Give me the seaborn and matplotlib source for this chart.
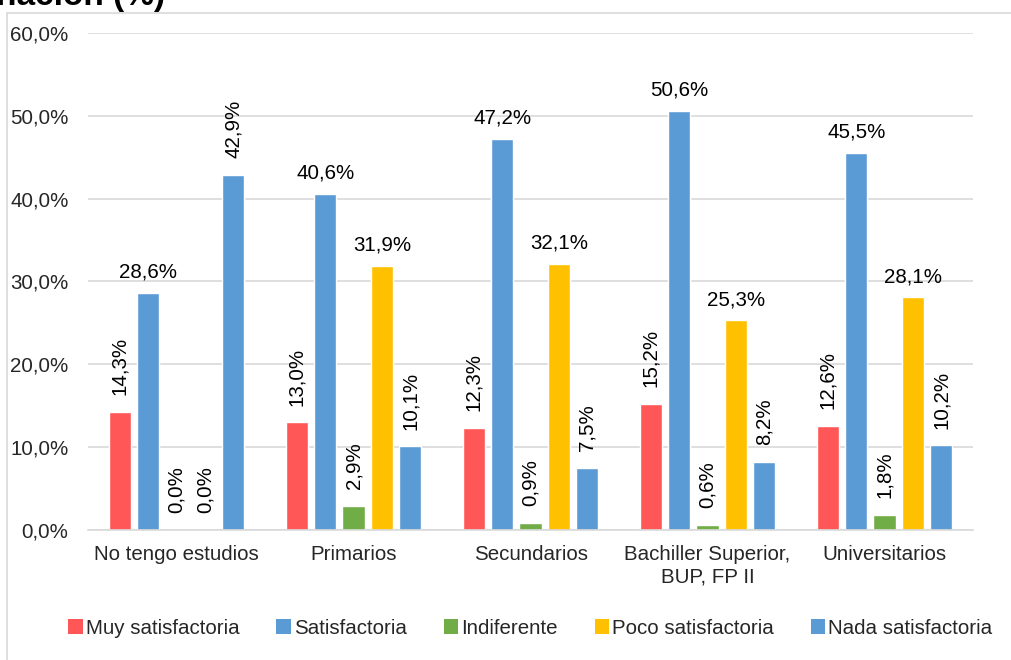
import matplotlib
matplotlib.use("Agg")
import matplotlib.pyplot as plt
from matplotlib.lines import Line2D
from matplotlib.patches import Patch
import seaborn as sns
import pandas as pd

categories = ["No tengo estudios", "Primarios", "Secundarios",
              "Bachiller Superior,\nBUP, FP II", "Universitarios"]
series = ["Muy satisfactoria", "Satisfactoria", "Indiferente",
          "Poco satisfactoria", "Nada satisfactoria"]
muy_satisfactoria = [14.3, 13.0, 12.3, 15.2, 12.6]
satisfactoria = [28.6, 40.6, 47.2, 50.6, 45.5]
indiferente = [0.0, 2.9, 0.9, 0.6, 1.8]
poco_satisfactoria = [0.0, 31.9, 32.1, 25.3, 28.1]
nada_satisfactoria = [42.9, 10.1, 7.5, 8.2, 10.2]
colors = ["#FF5757", "#5B9BD5", "#70AD47", "#FFC000", "#5B9BD5"]
yticks = [0, 10, 20, 30, 40, 50, 60]
title_fragment = "nación (%)"

values = [muy_satisfactoria, satisfactoria, indiferente,
          poco_satisfactoria, nada_satisfactoria]
rows = []
for s, vals in zip(series, values):
    for c, v in zip(categories, vals):
        rows.append({"Nivel": c, "Valoración": s, "Porcentaje": v})
df = pd.DataFrame(rows)

sns.set_theme(style="white")
plt.rcParams["font.family"] = ["Liberation Sans", "DejaVu Sans"]
FS = 14.8

fig = plt.figure(figsize=(10.12, 6.6), dpi=100)
ax = fig.add_axes([0.087, 0.197, 0.8745, 0.753])

sns.barplot(data=df, x="Nivel", y="Porcentaje", hue="Valoración",
            order=categories, hue_order=series, palette=colors,
            width=0.8, gap=0.22, saturation=1, errorbar=None,
            ax=ax, legend=False)

ax.set_ylim(0, 60)
ax.set_xlim(-0.5, len(categories) - 0.5)
ax.set_yticks(yticks)
ax.set_yticklabels([f"{t:.1f}%".replace(".", ",") for t in yticks], fontsize=FS)
ax.tick_params(axis="x", labelsize=FS, length=0, pad=11)
ax.tick_params(axis="y", length=0, pad=14)
ax.set_xlabel("")
ax.set_ylabel("")
ax.yaxis.grid(True, color="#D9D9D9", linewidth=1.2)
ax.set_axisbelow(True)
for side in ["left", "right", "top"]:
    ax.spines[side].set_visible(False)
ax.spines["bottom"].set_color("#D9D9D9")
ax.spines["bottom"].set_linewidth(1.2)

# value labels: horizontal above the taller satisfied / poorly satisfied bars,
# vertical everywhere else
for s_idx, container in enumerate(ax.containers):
    for bar in container:
        v = bar.get_height()
        x = bar.get_x() + bar.get_width() / 2
        txt = f"{v:.1f}%".replace(".", ",")
        if s_idx in (1, 3) and v > 20:
            ax.annotate(txt, (x, v), xytext=(0, 8), textcoords="offset points",
                        ha="center", va="bottom", fontsize=FS, color="#000000")
        else:
            ax.annotate(txt, (x, v), xytext=(0, 12), textcoords="offset points",
                        ha="center", va="bottom", rotation=90,
                        fontsize=FS, color="#000000")

handles = [Patch(facecolor=c, edgecolor="none") for c in colors]
fig.legend(handles, series, loc="center", bbox_to_anchor=(0.524, 0.048),
           ncol=5, frameon=False, fontsize=FS, handlelength=0.7,
           handleheight=0.7, handletextpad=0.15, columnspacing=1.8)

# chart frame
fig.add_artist(Line2D([7 / 1012, 1.0], [1 - 13 / 660, 1 - 13 / 660],
                      transform=fig.transFigure, color="#D9D9D9", linewidth=1.2))
fig.add_artist(Line2D([7 / 1012, 7 / 1012], [0.0, 1 - 13 / 660],
                      transform=fig.transFigure, color="#D9D9D9", linewidth=1.2))

fig.text(-0.004, 1 - 5 / 660, title_fragment, fontsize=24, fontweight="bold",
         ha="left", va="baseline", color="#000000")

fig.savefig("out.png", dpi=100)
